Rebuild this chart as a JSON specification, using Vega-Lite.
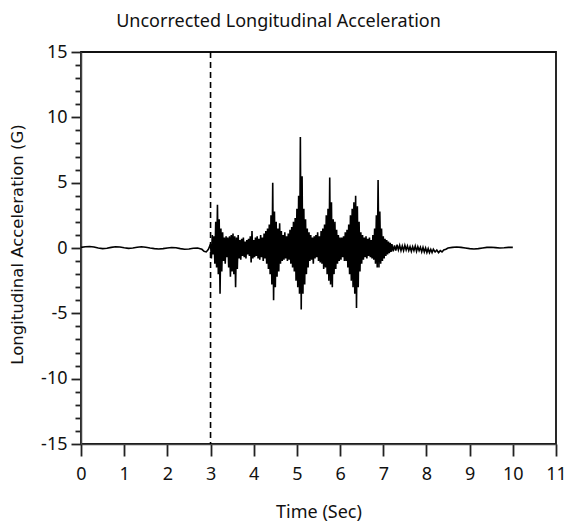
{
  "$schema": "https://vega.github.io/schema/vega-lite/v6.json",
  "width": 475,
  "height": 392,
  "autosize": {"type": "none"},
  "padding": {"left": 81, "top": 52, "right": 12, "bottom": 85},
  "background": "white",
  "config": {
    "view": {"stroke": "#111", "strokeWidth": 1.8},
    "font": "Noto Sans",
    "axis": {"domainColor": "#444", "domainWidth": 1.5, "tickColor": "#222", "tickWidth": 1.8, "grid": false, "labelFont": "Noto Sans", "labelFontSize": 18, "labelColor": "#111", "titleColor": "#111", "labelOverlap": false, "labelFlush": false}
  },
  "title": {"text": "Uncorrected Longitudinal Acceleration", "font": "Noto Sans", "fontSize": 18, "fontWeight": "normal", "color": "#111", "anchor": "middle", "dx": -40, "offset": 12},
  "datasets": {
    "sig": [
      {"t":0,"g":0.05},{"t":0.1,"g":0.1},{"t":0.2,"g":0.12},{"t":0.3,"g":0.08},{"t":0.4,"g":0.0},{"t":0.5,"g":-0.05},{"t":0.6,"g":-0.02},{"t":0.7,"g":0.05},{"t":0.8,"g":0.1},{"t":0.9,"g":0.08},
      {"t":1.0,"g":0.02},{"t":1.1,"g":-0.03},{"t":1.2,"g":0.0},{"t":1.3,"g":0.06},{"t":1.4,"g":0.1},{"t":1.5,"g":0.06},{"t":1.6,"g":0.0},{"t":1.7,"g":-0.05},{"t":1.8,"g":-0.08},{"t":1.9,"g":-0.05},
      {"t":2.0,"g":0.0},{"t":2.1,"g":0.04},{"t":2.2,"g":0.02},{"t":2.3,"g":-0.05},{"t":2.4,"g":-0.1},{"t":2.5,"g":-0.08},{"t":2.6,"g":-0.02},{"t":2.7,"g":0.0},{"t":2.8,"g":-0.1},{"t":2.85,"g":-0.25},{"t":2.9,"g":-0.3},{"t":2.95,"g":-0.1},{"t":3.0,"g":0.3},
      {"t":3.02,"g":-0.8},{"t":3.04,"g":1.0},{"t":3.06,"g":-0.5},{"t":3.08,"g":0.9},{"t":3.10,"g":-1.2},{"t":3.12,"g":2.0},{"t":3.14,"g":-1.5},{"t":3.16,"g":3.3},{"t":3.18,"g":-2.0},{"t":3.20,"g":2.2},
      {"t":3.22,"g":-3.5},{"t":3.24,"g":1.5},{"t":3.26,"g":-1.8},{"t":3.28,"g":1.2},{"t":3.30,"g":-1.0},{"t":3.32,"g":0.8},{"t":3.34,"g":-1.2},{"t":3.36,"g":0.9},{"t":3.38,"g":-0.7},{"t":3.40,"g":0.8},
      {"t":3.42,"g":-1.5},{"t":3.44,"g":0.9},{"t":3.46,"g":-2.2},{"t":3.48,"g":1.0},{"t":3.50,"g":-1.8},{"t":3.52,"g":1.1},{"t":3.54,"g":-2.0},{"t":3.56,"g":0.9},{"t":3.58,"g":-3.0},{"t":3.60,"g":0.8},
      {"t":3.62,"g":-1.6},{"t":3.64,"g":1.0},{"t":3.66,"g":-0.8},{"t":3.68,"g":0.6},{"t":3.70,"g":-0.9},{"t":3.72,"g":0.7},{"t":3.74,"g":-0.6},{"t":3.76,"g":0.8},{"t":3.78,"g":-0.7},{"t":3.80,"g":0.5},
      {"t":3.82,"g":-0.8},{"t":3.84,"g":0.6},{"t":3.86,"g":-0.5},{"t":3.88,"g":0.7},{"t":3.90,"g":-0.6},{"t":3.92,"g":0.9},{"t":3.94,"g":-1.1},{"t":3.96,"g":1.3},{"t":3.98,"g":-0.8},{"t":4.00,"g":0.6},
      {"t":4.02,"g":-0.7},{"t":4.04,"g":0.8},{"t":4.06,"g":-0.6},{"t":4.08,"g":0.9},{"t":4.10,"g":-0.8},{"t":4.12,"g":0.7},{"t":4.14,"g":-0.9},{"t":4.16,"g":1.0},{"t":4.18,"g":-0.7},{"t":4.20,"g":0.8},
      {"t":4.22,"g":-1.0},{"t":4.24,"g":1.1},{"t":4.26,"g":-0.8},{"t":4.28,"g":1.3},{"t":4.30,"g":-1.2},{"t":4.32,"g":1.5},{"t":4.34,"g":-1.6},{"t":4.36,"g":1.8},{"t":4.38,"g":-2.0},{"t":4.40,"g":2.5},
      {"t":4.42,"g":-2.8},{"t":4.44,"g":5.0},{"t":4.46,"g":-4.0},{"t":4.48,"g":2.8},{"t":4.50,"g":-3.0},{"t":4.52,"g":2.0},{"t":4.54,"g":-2.2},{"t":4.56,"g":1.5},{"t":4.58,"g":-1.8},{"t":4.60,"g":1.9},
      {"t":4.62,"g":-1.2},{"t":4.64,"g":1.3},{"t":4.66,"g":-1.0},{"t":4.68,"g":1.0},{"t":4.70,"g":-0.9},{"t":4.72,"g":1.2},{"t":4.74,"g":-0.8},{"t":4.76,"g":0.9},{"t":4.78,"g":-1.0},{"t":4.80,"g":1.1},
      {"t":4.82,"g":-0.9},{"t":4.84,"g":1.4},{"t":4.86,"g":-1.2},{"t":4.88,"g":1.6},{"t":4.90,"g":-1.5},{"t":4.92,"g":2.0},{"t":4.94,"g":-1.8},{"t":4.96,"g":2.3},{"t":4.98,"g":-2.5},{"t":5.00,"g":3.0},
      {"t":5.02,"g":-3.0},{"t":5.04,"g":4.0},{"t":5.06,"g":-3.5},{"t":5.08,"g":8.5},{"t":5.10,"g":-4.7},{"t":5.12,"g":5.5},{"t":5.14,"g":-3.5},{"t":5.16,"g":3.0},{"t":5.18,"g":-2.8},{"t":5.20,"g":2.2},
      {"t":5.22,"g":-2.0},{"t":5.24,"g":1.5},{"t":5.26,"g":-1.5},{"t":5.28,"g":1.2},{"t":5.30,"g":-1.0},{"t":5.32,"g":1.0},{"t":5.34,"g":-0.9},{"t":5.36,"g":0.8},{"t":5.38,"g":-1.2},{"t":5.40,"g":0.9},
      {"t":5.42,"g":-0.8},{"t":5.44,"g":1.0},{"t":5.46,"g":-0.7},{"t":5.48,"g":1.2},{"t":5.50,"g":-1.0},{"t":5.52,"g":0.9},{"t":5.54,"g":-1.1},{"t":5.56,"g":1.3},{"t":5.58,"g":-1.2},{"t":5.60,"g":1.5},
      {"t":5.62,"g":-1.6},{"t":5.64,"g":1.8},{"t":5.66,"g":-1.5},{"t":5.68,"g":2.5},{"t":5.70,"g":-2.0},{"t":5.72,"g":3.0},{"t":5.74,"g":-2.5},{"t":5.76,"g":5.4},{"t":5.78,"g":-2.8},{"t":5.80,"g":3.5},
      {"t":5.82,"g":-3.0},{"t":5.84,"g":2.2},{"t":5.86,"g":-2.0},{"t":5.88,"g":2.0},{"t":5.90,"g":-1.6},{"t":5.92,"g":1.4},{"t":5.94,"g":-1.2},{"t":5.96,"g":1.0},{"t":5.98,"g":-1.0},{"t":6.00,"g":0.8},
      {"t":6.02,"g":-0.9},{"t":6.04,"g":0.8},{"t":6.06,"g":-0.7},{"t":6.08,"g":0.9},{"t":6.10,"g":-1.0},{"t":6.12,"g":1.2},{"t":6.14,"g":-1.0},{"t":6.16,"g":1.4},{"t":6.18,"g":-1.5},{"t":6.20,"g":1.8},
      {"t":6.22,"g":-2.0},{"t":6.24,"g":2.5},{"t":6.26,"g":-2.5},{"t":6.28,"g":3.0},{"t":6.30,"g":-3.0},{"t":6.32,"g":3.5},{"t":6.34,"g":-3.5},{"t":6.36,"g":4.0},{"t":6.38,"g":-4.6},{"t":6.40,"g":3.2},
      {"t":6.42,"g":-3.0},{"t":6.44,"g":2.0},{"t":6.46,"g":-1.8},{"t":6.48,"g":1.2},{"t":6.50,"g":-1.2},{"t":6.52,"g":1.0},{"t":6.54,"g":-0.9},{"t":6.56,"g":0.8},{"t":6.58,"g":-0.7},{"t":6.60,"g":0.9},
      {"t":6.62,"g":-0.8},{"t":6.64,"g":0.7},{"t":6.66,"g":-0.6},{"t":6.68,"g":0.8},{"t":6.70,"g":-0.7},{"t":6.72,"g":0.6},{"t":6.74,"g":-0.8},{"t":6.76,"g":1.0},{"t":6.78,"g":-0.9},{"t":6.80,"g":1.5},
      {"t":6.82,"g":-1.2},{"t":6.84,"g":2.5},{"t":6.86,"g":-1.5},{"t":6.88,"g":5.2},{"t":6.90,"g":-1.5},{"t":6.92,"g":2.8},{"t":6.94,"g":-1.2},{"t":6.96,"g":1.5},{"t":6.98,"g":-1.0},{"t":7.00,"g":0.9},
      {"t":7.02,"g":-0.8},{"t":7.04,"g":0.7},{"t":7.06,"g":-0.6},{"t":7.08,"g":0.6},{"t":7.10,"g":-0.5},{"t":7.12,"g":0.5},{"t":7.14,"g":-0.4},{"t":7.16,"g":0.4},{"t":7.18,"g":-0.3},{"t":7.20,"g":0.3},
      {"t":7.23,"g":-0.25},{"t":7.26,"g":0.2},{"t":7.29,"g":-0.2},{"t":7.32,"g":0.25},{"t":7.35,"g":-0.15},{"t":7.38,"g":0.2},{"t":7.41,"g":-0.2},{"t":7.44,"g":0.15},{"t":7.47,"g":-0.2},{"t":7.50,"g":0.2},
      {"t":7.53,"g":-0.15},{"t":7.56,"g":0.15},{"t":7.59,"g":-0.2},{"t":7.62,"g":0.1},{"t":7.65,"g":-0.25},{"t":7.68,"g":0.1},{"t":7.71,"g":-0.2},{"t":7.74,"g":0.15},{"t":7.77,"g":-0.25},{"t":7.80,"g":0.1},
      {"t":7.83,"g":-0.2},{"t":7.86,"g":0.05},{"t":7.89,"g":-0.3},{"t":7.92,"g":0.05},{"t":7.95,"g":-0.3},{"t":7.98,"g":0.0},{"t":8.01,"g":-0.35},{"t":8.04,"g":-0.05},{"t":8.07,"g":-0.35},{"t":8.10,"g":-0.1},
      {"t":8.13,"g":-0.35},{"t":8.16,"g":-0.1},{"t":8.20,"g":-0.3},{"t":8.24,"g":-0.15},{"t":8.28,"g":-0.35},{"t":8.32,"g":-0.2},{"t":8.36,"g":-0.3},{"t":8.40,"g":-0.15},
      {"t":8.45,"g":-0.1},{"t":8.5,"g":0.0},{"t":8.6,"g":0.05},{"t":8.7,"g":0.08},{"t":8.8,"g":0.05},{"t":8.9,"g":0.0},{"t":9.0,"g":-0.05},{"t":9.1,"g":-0.08},{"t":9.2,"g":-0.05},{"t":9.3,"g":0.0},
      {"t":9.4,"g":0.05},{"t":9.5,"g":0.06},{"t":9.6,"g":0.03},{"t":9.7,"g":0.0},{"t":9.8,"g":0.02},{"t":9.9,"g":0.05},{"t":10.0,"g":0.05}
    ],
    "marker": [{"t": 3}]
  },
  "layer": [
    {
      "data": {"name": "sig"},
      "mark": {"type": "line", "color": "#000", "strokeWidth": 1.6, "clip": true},
      "encoding": {
        "x": {"field": "t", "type": "quantitative", "scale": {"domain": [0, 11], "nice": false},
          "axis": {"title": "Time (Sec)", "titleFont": "Noto Sans", "titleFontSize": 18, "titleFontWeight": "normal", "titleY": 68, "titleBaseline": "middle",
            "values": [0,0.25,0.5,0.75,1,1.25,1.5,1.75,2,2.25,2.5,2.75,3,3.25,3.5,3.75,4,4.25,4.5,4.75,5,5.25,5.5,5.75,6,6.25,6.5,6.75,7,7.25,7.5,7.75,8,8.25,8.5,8.75,9,9.25,9.5,9.75,10,10.25,10.5,10.75,11],
            "labelExpr": "datum.value % 1 === 0 ? '' + datum.value : ''",
            "tickSize": {"condition": {"test": "datum.value % 1 === 0", "value": 12}, "value": 8},
            "labelPadding": 9}},
        "y": {"field": "g", "type": "quantitative", "scale": {"domain": [-15, 15], "nice": false},
          "axis": {"title": "Longitudinal Acceleration (G)", "titleFont": "DejaVu Sans", "titleFontSize": 16.5, "titleFontWeight": "normal", "titleX": -64, "titleBaseline": "middle", "titleAlign": "center", "titleY": 192,
            "values": [-15,-14,-13,-12,-11,-10,-9,-8,-7,-6,-5,-4,-3,-2,-1,0,1,2,3,4,5,6,7,8,9,10,11,12,13,14,15],
            "labelExpr": "datum.value % 5 === 0 ? '' + datum.value : ''",
            "tickSize": {"condition": {"test": "datum.value % 5 === 0", "value": 10}, "value": 6},
            "labelPadding": 4}}
      }
    },
    {
      "data": {"name": "marker"},
      "mark": {"type": "rule", "color": "#000", "strokeWidth": 1.6, "strokeDash": [6, 4]},
      "encoding": {"x": {"field": "t", "type": "quantitative"}}
    }
  ]
}
